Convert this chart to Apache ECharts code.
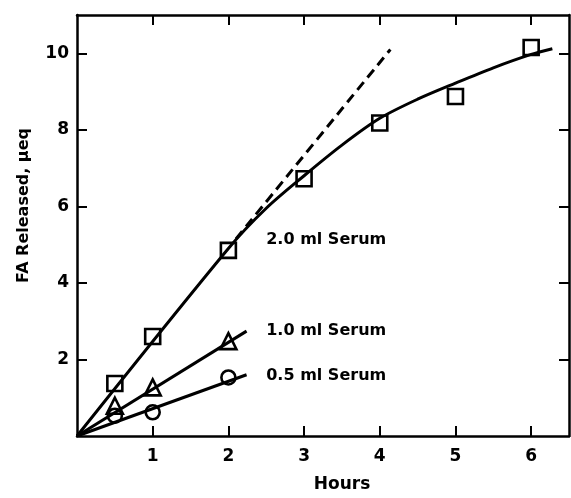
<!DOCTYPE html>
<html style="height: 100%; width: 100%">
  <head>
    <meta charset="utf-8" />
  </head>
  <body style="height: 100%; width: 100%; margin: 0; background: #fff">
    <div id="chart-panel" style="height: 498px; width: 571px"></div>
    <script
      type="text/javascript"
      src="https://cdn.jsdelivr.net/npm/echarts@6/dist/echarts.min.js"
    ></script>

    <script type="text/javascript">
      var dom = document.getElementById("chart-panel");
      var myChart = echarts.init(dom);
      var option;

      // measured points (hours, FA released)
      var serum20 = [[0.5, 1.37], [1, 2.6], [2, 4.85], [3, 6.72], [4, 8.18], [5, 8.87], [6, 10.15]];
      var serum10 = [[0.5, 0.79], [1, 1.27], [2, 2.48]];
      var serum05 = [[0.5, 0.53], [1, 0.62], [2, 1.53]];

      // drawn curves
      var curve20 = [[0, 0], [2, 4.9], [2.5, 5.95], [3, 6.8], [3.5, 7.6], [4, 8.3], [4.5, 8.8], [5, 9.22], [5.5, 9.62], [6, 9.97], [6.28, 10.12]];
      var dashed20 = [[2.1, 5.15], [4.14, 10.1]];
      var curve10 = [[0, 0], [2.24, 2.74]];
      var curve05 = [[0, 0], [2.24, 1.6]];

      var labelNames = ["2.0 ml Serum", "1.0 ml Serum", "0.5 ml Serum"];
      var labelPos = [[2.5, 5.12], [2.5, 2.75], [2.5, 1.56]];

      var xTicks = [1, 2, 3, 4, 5, 6];
      var yTicks = [2, 4, 6, 8, 10];

      var font = "DejaVu Sans";
      var ink = "#000";

      function lineSeries(data, dashed) {
        return {
          type: "line",
          data: data,
          showSymbol: false,
          smooth: 0.3,
          silent: true,
          lineStyle: { color: ink, width: 3, type: dashed ? [10, 6] : "solid" },
          z: 2,
        };
      }

      function markSeries(data, symbol, size) {
        return {
          type: "scatter",
          data: data,
          symbol: symbol,
          symbolSize: size,
          itemStyle: { color: "transparent", borderColor: ink, borderWidth: 2.6, opacity: 1 },
          z: 3,
        };
      }

      function axis(extra, ticks, withLabels) {
        return Object.assign(
          {
            type: "value",
            axisLine: { show: true, onZero: false, lineStyle: { color: ink, width: 2.5 } },
            axisTick: { show: true, inside: true, length: 10, customValues: ticks, lineStyle: { color: ink, width: 2 } },
            axisLabel: withLabels
              ? { customValues: ticks, fontFamily: font, fontWeight: "bold", fontSize: 17, color: ink }
              : { show: false },
            splitLine: { show: false },
          },
          extra
        );
      }

      var xMain = axis({ min: 0, max: 6.5, name: "Hours", nameLocation: "middle", nameGap: 40,
        nameTextStyle: { fontFamily: font, fontWeight: "bold", fontSize: 17, color: ink, padding: [0, 0, 0, 38] } }, xTicks, true);
      xMain.axisLabel.margin = 12;
      var yMain = axis({ min: 0, max: 11, name: "FA Released, \u03bceq", nameLocation: "middle", nameGap: 45,
        nameTextStyle: { fontFamily: font, fontWeight: "bold", fontSize: 16, color: ink, padding: [0, 0, 0, 40] } }, yTicks, true);
      yMain.axisLabel.margin = 8;

      option = {
        animation: false,
        grid: { left: 77, right: 2, top: 15, bottom: 56 },
        xAxis: [xMain, axis({ position: "top", min: 0, max: 6.5 }, xTicks, false)],
        yAxis: [yMain, axis({ position: "right", min: 0, max: 11 }, yTicks, false)],
        series: [
          lineSeries(curve20, false),
          lineSeries(dashed20, true),
          lineSeries(curve10, false),
          lineSeries(curve05, false),
          markSeries(serum20, "rect", 15),
          markSeries(serum10, "triangle", 16),
          markSeries(serum05, "circle", 14),
          {
            type: "scatter",
            symbolSize: 0,
            silent: true,
            itemStyle: { opacity: 1 },
            data: labelPos.map(function (p, i) {
              return { value: p, name: labelNames[i] };
            }),
            label: {
              show: true,
              position: "right",
              distance: 0,
              formatter: "{b}",
              fontFamily: font,
              fontWeight: "bold",
              fontSize: 16,
              color: ink,
            },
          },
        ],
      };
      if (option && typeof option === "object") {
        myChart.setOption(option);
      }
    </script>
  </body>
</html>
